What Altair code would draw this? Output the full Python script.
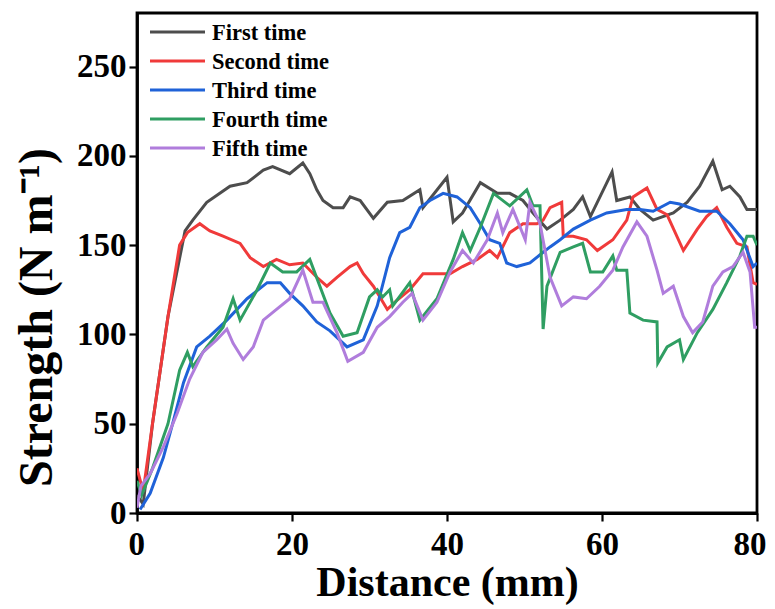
import altair as alt
import pandas as pd

series_names = ["First time", "Second time", "Third time", "Fourth time", "Fifth time"]
series_colors = ["#4d4d4d", "#f03a3a", "#1f62d8", "#2f9e62", "#b07ddc"]

first_x = [0, 0.8, 2, 4, 6.2, 7.2, 9.0, 12, 14.2, 16.3, 17.5, 19.7, 21.4, 22.3, 23.2, 24, 25.3, 26.6, 27.5, 28.8, 30.5, 32.3, 34.3, 36.5, 36.9, 40, 40.8, 42, 44.3, 46.5, 48.1, 49.8, 51.1, 52.9, 54.6, 56.3, 57.5, 58.5, 61.3, 61.9, 63.6, 64.9, 66.6, 69.2, 71, 72.6, 74.3, 75.5, 76.5, 77.8, 78.7, 80]
first_y = [10, 5, 50, 110, 158, 164, 174, 183, 185, 192, 194, 190, 196, 190, 181, 175, 171, 171, 177, 175, 165, 174, 175, 181, 171, 188, 163, 168, 185, 179, 179, 175, 168, 159, 164, 170, 177, 166, 191, 175, 177, 170, 164, 168, 174, 183, 197, 181, 183, 177, 170, 170]

second_x = [0, 0.8, 2, 4, 5.5, 6.5, 8.1, 9.4, 11.1, 13.3, 14.6, 16.3, 18, 19.7, 21.4, 23.2, 24.5, 25.8, 27.5, 28.4, 29.2, 30.5, 32.3, 33.5, 35.2, 36.9, 38.7, 40.4, 42, 43.9, 45.5, 46.5, 48.1, 49.8, 51.6, 52.4, 53.3, 54.8, 55, 56.3, 58, 59.4, 61.4, 63.2, 64, 65.8, 67.1, 68.4, 70.5, 72.3, 73.5, 74.8, 76.1, 77.4, 78.7, 79.5, 80]
second_y = [25, 12, 50, 110, 150, 157, 162, 158, 155, 151, 143, 138, 142, 139, 140, 132, 127, 132, 138, 140, 134, 127, 114, 119, 125, 134, 134, 134, 138, 142, 147, 143, 157, 162, 162, 164, 171, 174, 155, 155, 153, 147, 153, 164, 177, 182, 170, 167, 147, 159, 166, 171, 160, 151, 149, 129, 128]

third_x = [0.4, 1.7, 3.4, 4.6, 6, 7.7, 9.4, 11.6, 14.2, 16.8, 18.5, 19.7, 21.4, 23.2, 24.9, 27.1, 29.2, 31, 32.6, 33.9, 35.2, 36.5, 37.8, 39.5, 41.3, 43, 44.3, 45.5, 46.8, 47.7, 49, 50.7, 52.4, 53.3, 54.6, 56.3, 58.5, 60.6, 63.2, 64.9, 66.6, 68.8, 70, 72.6, 74.8, 76.5, 78.2, 79.5, 80]
third_y = [2, 11, 31, 50, 73, 93, 99, 108, 120, 129, 129, 123, 116, 107, 102, 93, 97, 116, 143, 157, 160, 171, 175, 179, 177, 171, 162, 153, 151, 140, 138, 140, 146, 149, 153, 159, 164, 168, 170, 170, 169, 174, 173, 169, 169, 162, 153, 138, 140]

fourth_x = [0, 0.6, 2, 4, 5.5, 6.5, 7.2, 9, 11.1, 12.4, 13.3, 15.5, 17.2, 18.8, 20.6, 22.3, 23.6, 24.9, 26.6, 28.4, 30, 31, 31.7, 32.6, 33, 35.2, 36.5, 38.7, 40.8, 42, 43, 44.3, 46, 48.1, 50.3, 51.1, 52, 52.4, 52.9, 54.6, 56.3, 57.5, 58.5, 60.1, 61.4, 61.9, 63.2, 63.6, 65.3, 67.1, 67.2, 68.4, 70, 70.5, 72.3, 74.3, 76.1, 77.8, 78.7, 79.5, 80]
fourth_y = [18, 10, 25, 50, 80, 90, 82, 93, 104, 120, 108, 125, 140, 135, 135, 142, 127, 112, 99, 101, 121, 125, 121, 125, 116, 129, 108, 120, 142, 157, 147, 160, 179, 172, 181, 172, 172, 103, 127, 146, 149, 151, 135, 135, 144, 136, 136, 112, 108, 107, 84, 93, 97, 86, 101, 114, 129, 144, 155, 155, 150]

fifth_x = [0, 0.5, 1.7, 3.4, 5.2, 6.8, 8.5, 10.3, 11.6, 12.4, 13.7, 15, 16.3, 18, 19.7, 21.4, 22.7, 24, 25.8, 27.2, 29.2, 31, 32.6, 34.3, 35.5, 36.9, 38.7, 40.4, 42, 43.4, 45.2, 46.5, 47.2, 48.5, 50.1, 50.7, 52, 53.3, 54.8, 56.3, 58, 59.7, 61.4, 62.7, 64.5, 65.8, 67.1, 67.9, 69.2, 70.5, 71.7, 73, 74.3, 75.6, 76.9, 78.2, 79.1, 79.7, 80]
fifth_y = [3, 15, 22, 37, 56, 75, 90, 97, 103, 95, 86, 93, 108, 114, 120, 136, 118, 118, 101, 85, 90, 104, 110, 118, 123, 108, 118, 135, 147, 140, 153, 168, 157, 170, 153, 174, 162, 132, 116, 121, 120, 127, 136, 149, 163, 155, 136, 123, 127, 110, 101, 107, 127, 135, 138, 146, 135, 104, 104]

all_x = [first_x, second_x, third_x, fourth_x, fifth_x]
all_y = [first_y, second_y, third_y, fourth_y, fifth_y]

rows = []
for name, xs, ys in zip(series_names, all_x, all_y):
    for i, (xv, yv) in enumerate(zip(xs, ys)):
        rows.append({"series": name, "distance": xv, "strength": yv, "order": i})
df = pd.DataFrame(rows)

FONT = "Liberation Serif"
color = alt.Color("series:N", scale=alt.Scale(domain=series_names, range=series_colors), legend=None)

lines = alt.Chart(df).mark_line(strokeWidth=3, clip=True).encode(
    x=alt.X("distance:Q", scale=alt.Scale(domain=[0, 80], nice=False),
            axis=alt.Axis(values=[0, 20, 40, 60, 80], title="Distance (mm)",
                          labelFlush=True, labelFlushOffset=9)),
    y=alt.Y("strength:Q", scale=alt.Scale(domain=[0, 280], nice=False),
            axis=alt.Axis(values=[0, 50, 100, 150, 200, 250], title="Strength (N m⁻¹)",
                          titleY=304, titleFontSize=48)),
    color=color,
    detail="series:N",
    order="order:Q",
)

leg = pd.DataFrame({"series": series_names, "idx": list(range(len(series_names)))})
leg_base = alt.Chart(leg).transform_calculate(ly="19 + datum.idx * 29")
leg_rules = leg_base.mark_rule(strokeWidth=3.2).encode(
    x=alt.value(13), x2=alt.value(68),
    y=alt.Y("ly:Q", scale=None),
    color=color,
)
leg_text = leg_base.mark_text(align="left", baseline="middle", font=FONT, fontWeight="bold",
                              fontSize=22.5, color="black", dy=1).encode(
    x=alt.value(75),
    y=alt.Y("ly:Q", scale=None),
    text="series:N",
)

chart = alt.layer(lines, leg_rules, leg_text).properties(
    width=620, height=500,
    autosize=alt.AutoSizeParams(type="none"),
    padding={"left": 129, "top": 5, "right": 10, "bottom": 94},
).configure_view(
    stroke="black", strokeWidth=2.8,
).configure_axis(
    domainColor="black", domainWidth=2.8, tickColor="black", tickWidth=2.2, tickSize=8,
    grid=False, labelFont=FONT, labelFontWeight="bold", labelFontSize=33, labelColor="black",
    titleFont=FONT, titleFontWeight="bold", titleFontSize=42, titleColor="black",
).configure_axisX(
    labelPadding=7, titlePadding=1,
).configure_axisY(
    labelPadding=3, titlePadding=15,
)

chart.save("out.html", embed_options={"renderer": "svg", "actions": False})
